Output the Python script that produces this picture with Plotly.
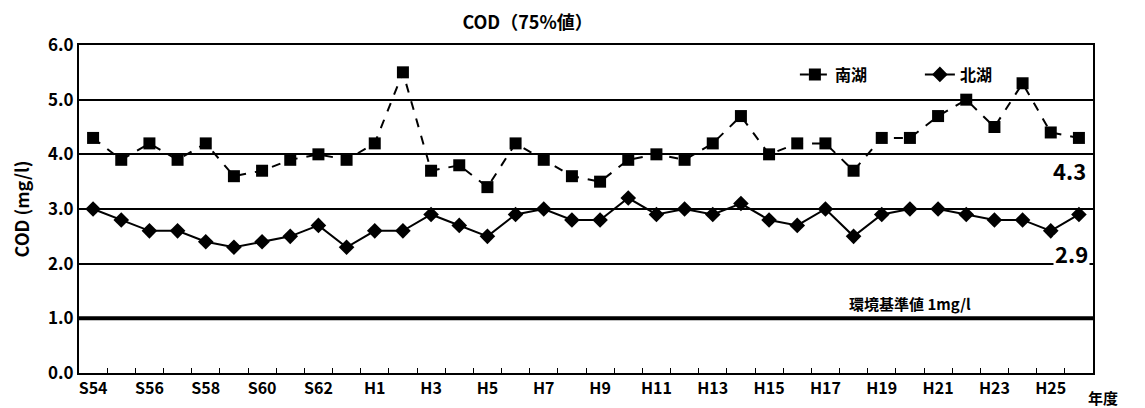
import plotly.graph_objects as go

years = ["S54", "S55", "S56", "S57", "S58", "S59", "S60", "S61", "S62", "S63",
         "H1", "H2", "H3", "H4", "H5", "H6", "H7", "H8", "H9", "H10",
         "H11", "H12", "H13", "H14", "H15", "H16", "H17", "H18", "H19", "H20",
         "H21", "H22", "H23", "H24", "H25", "H26"]
south = [4.3, 3.9, 4.2, 3.9, 4.2, 3.6, 3.7, 3.9, 4.0, 3.9,
         4.2, 5.5, 3.7, 3.8, 3.4, 4.2, 3.9, 3.6, 3.5, 3.9,
         4.0, 3.9, 4.2, 4.7, 4.0, 4.2, 4.2, 3.7, 4.3, 4.3,
         4.7, 5.0, 4.5, 5.3, 4.4, 4.3]
north = [3.0, 2.8, 2.6, 2.6, 2.4, 2.3, 2.4, 2.5, 2.7, 2.3,
         2.6, 2.6, 2.9, 2.7, 2.5, 2.9, 3.0, 2.8, 2.8, 3.2,
         2.9, 3.0, 2.9, 3.1, 2.8, 2.7, 3.0, 2.5, 2.9, 3.0,
         3.0, 2.9, 2.8, 2.8, 2.6, 2.9]
standard = 1.0
south_label = "4.3"
north_label = "2.9"
y_ticks = [0, 1, 2, 3, 4, 5, 6]

FONT = "Noto Sans CJK JP"
idx = list(range(len(years)))

fig = go.Figure()
fig.add_trace(go.Scatter(
    x=idx, y=south, name="南湖", mode="lines+markers",
    line=dict(color="black", width=2, dash="dash"),
    marker=dict(symbol="square", size=12, color="black"),
))
fig.add_trace(go.Scatter(
    x=idx, y=north, name="北湖", mode="lines+markers",
    line=dict(color="black", width=2),
    marker=dict(symbol="diamond", size=12, color="black"),
))

# environmental standard line
fig.add_shape(type="line", xref="paper", x0=0, x1=1, yref="y", y0=standard, y1=standard,
              line=dict(color="black", width=4))

fig.add_annotation(x=0.882, xref="paper", y=standard, yref="y", yshift=15,
                   text="環境基準値 1mg/l", showarrow=False, xanchor="right",
                   font=dict(family=FONT, size=15, color="black", weight="bold"))
fig.add_annotation(x=0.995, xref="paper", y=3.72, yref="y",
                   text=south_label, showarrow=False, xanchor="right",
                   font=dict(family=FONT, size=22, color="black", weight="bold"))
fig.add_annotation(x=0.997, xref="paper", y=2.2, yref="y",
                   text=north_label, showarrow=False, xanchor="right", bgcolor="white",
                   font=dict(family=FONT, size=22, color="black", weight="bold"))
fig.add_annotation(x=1.027, xref="paper", y=-0.076, yref="paper", yanchor="middle",
                   text="年度", showarrow=False,
                   font=dict(family=FONT, size=15, color="black", weight="bold"))

fig.update_layout(
    width=1137, height=400,
    paper_bgcolor="white", plot_bgcolor="white",
    margin=dict(l=71, r=52, t=37, b=35),
    font=dict(family=FONT, size=15, color="black"),
    title=dict(text="COD（75%値）", x=0.457, xanchor="center", y=0.963, yanchor="middle",
               font=dict(family=FONT, size=18, color="black", weight="bold")),
    showlegend=True,
    legend=dict(orientation="h", x=0.706, y=0.91, xanchor="left", yanchor="middle",
                bgcolor="rgba(0,0,0,0)", entrywidth=80,
                font=dict(family=FONT, size=16, color="black", weight="bold")),
)
fig.update_xaxes(
    range=[-0.5, len(years) - 0.5], automargin=False,
    tickmode="array", tickvals=idx[::2], ticktext=years[::2],
    ticks="", showgrid=False, zeroline=False,
    showline=True, linecolor="black", linewidth=2, mirror=True,
    tickfont=dict(family=FONT, size=16, color="black", weight="bold"),
    minor=dict(tickmode="array", tickvals=[i + 0.5 for i in idx[:-1]],
               ticks="inside", ticklen=5, tickcolor="black", showgrid=False),
)
fig.update_yaxes(
    range=[0, 6], tickmode="array", tickvals=y_ticks, automargin=False,
    tickformat=".1f", ticks="",
    showgrid=True, gridcolor="black", gridwidth=1.5, zeroline=False,
    showline=True, linecolor="black", linewidth=2, mirror=True,
    title=dict(text="COD (mg/l)", font=dict(family=FONT, size=18, color="black", weight="bold"),
               standoff=16),
    tickfont=dict(family=FONT, size=17, color="black", weight="bold"),
)

fig.write_html("out.html")
